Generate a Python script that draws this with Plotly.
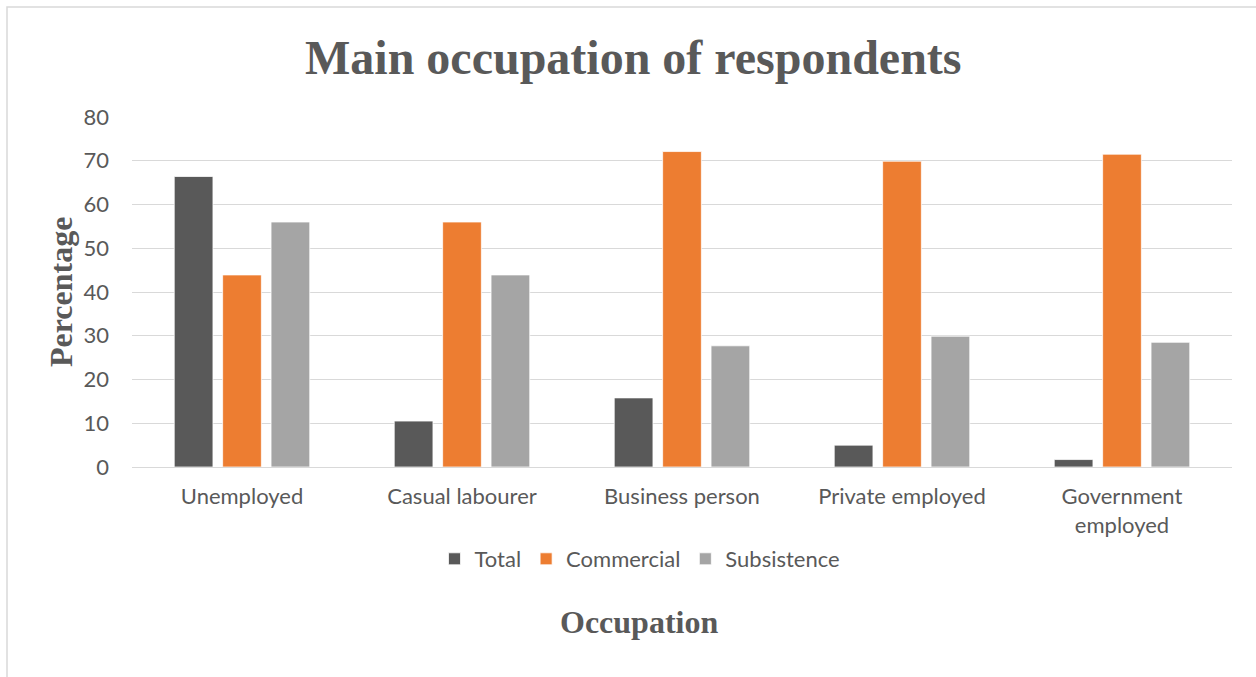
import plotly.graph_objects as go

# Occupation categories and percentage per respondent group
categories = ["Unemployed", "Casual labourer", "Business person",
              "Private employed", "Government<br>employed"]
total = [66.4, 10.5, 15.8, 5.0, 1.7]
commercial = [43.9, 56.0, 72.1, 69.9, 71.5]
subsistence = [56.0, 43.9, 27.7, 29.9, 28.5]
y_ticks = [0, 10, 20, 30, 40, 50, 60, 70, 80]

W, H = 1256, 677
ML, MR, MT, MB = 132, 24, 117, 210
plot_w = W - ML - MR
plot_h = H - MT - MB

def px_x(px):
    return (px - ML) / plot_w

def px_y(py):
    return (H - MB - py) / plot_h

text_grey = "#595959"
sans = "Lato"
serif = "Liberation Serif"

fig = go.Figure()
series = [("Total", total, "#595959"),
          ("Commercial", commercial, "#ED7D31"),
          ("Subsistence", subsistence, "#A5A5A5")]
for name, vals, color in series:
    fig.add_trace(go.Bar(
        x=categories, y=vals, name=name,
        marker=dict(color=color, line=dict(color="white", width=0.75)),
    ))

fig.update_layout(
    width=W, height=H,
    margin=dict(l=ML, r=MR, t=MT, b=MB),
    paper_bgcolor="white", plot_bgcolor="white",
    barmode="group", bargap=0.34, bargroupgap=0.2,
    font=dict(family=sans, color=text_grey, size=22),
    showlegend=True,
    legend=dict(orientation="h", x=px_x(640), xanchor="center",
                y=px_y(559), yanchor="middle",
                font=dict(family=sans, size=22, color=text_grey),
                itemwidth=30, traceorder="normal"),
    xaxis=dict(showline=False, ticks="", showgrid=False,
               ticklabelstandoff=14,
               tickfont=dict(family=sans, size=22, color=text_grey)),
    yaxis=dict(range=[0, 80], tickvals=y_ticks, showgrid=True,
               gridcolor="#D9D9D9", gridwidth=1.3, zeroline=True,
               zerolinecolor="#D9D9D9", zerolinewidth=1.3, ticks="",
               ticklabelstandoff=22,
               tickfont=dict(family=sans, size=22, color=text_grey)),
    annotations=[
        dict(text="<b>Main occupation of respondents</b>", xref="paper",
             yref="paper", x=px_x(633), y=px_y(58), xanchor="center",
             yanchor="middle", showarrow=False,
             font=dict(family=serif, size=48, color=text_grey)),
        dict(text="<b>Percentage</b>", xref="paper", yref="paper",
             x=px_x(61), y=px_y(292), xanchor="center", yanchor="middle",
             textangle=-90, showarrow=False,
             font=dict(family=serif, size=32, color=text_grey)),
        dict(text="<b>Occupation</b>", xref="paper", yref="paper",
             x=px_x(639), y=px_y(622), xanchor="center", yanchor="middle",
             showarrow=False,
             font=dict(family=serif, size=32, color=text_grey)),
    ],
    shapes=[dict(type="rect", xref="paper", yref="paper",
                 x0=px_x(7), x1=px_x(1270), y0=px_y(700), y1=px_y(7),
                 line=dict(color="#D9D9D9", width=1.5), layer="below")],
)

fig.write_html("out.html")
